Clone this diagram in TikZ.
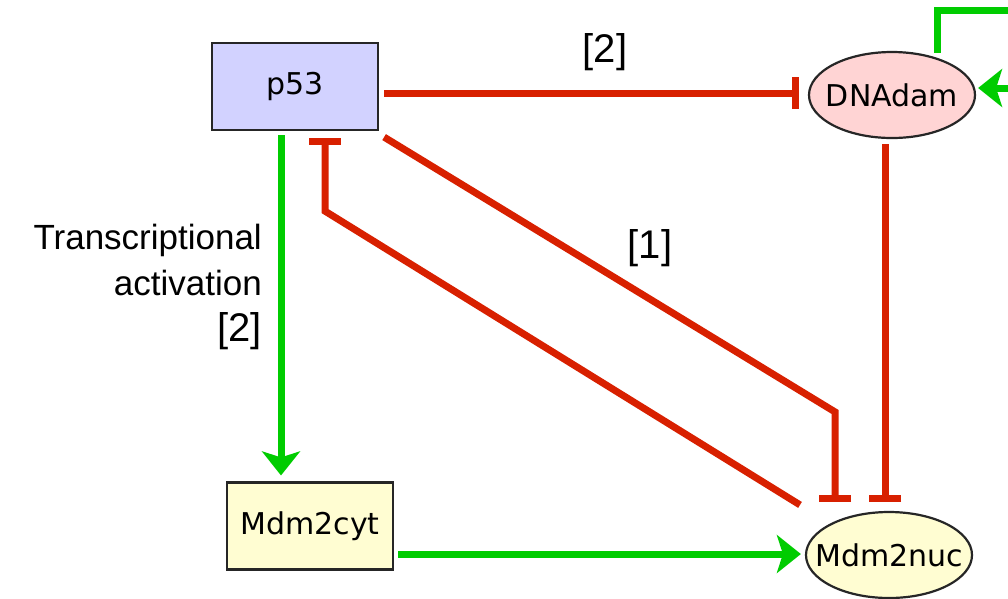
\documentclass[tikz,border=0pt]{standalone}
\usepackage{fontspec}
\setmainfont{Liberation Sans}
\newfontfamily\nodefont{DejaVu Sans}
\usetikzlibrary{arrows.meta,shapes.geometric,calc}

\definecolor{inhred}{RGB}{216,32,0}
\definecolor{actgreen}{RGB}{0,204,0}
\definecolor{pfill}{RGB}{210,210,255}
\definecolor{dnafill}{RGB}{255,212,212}
\definecolor{mdmfill}{RGB}{255,253,210}

\begin{document}
\begin{tikzpicture}[x=1pt,y=-1pt,
  species/.style={draw=black!85, line width=2.2pt, inner sep=0pt,
    font=\nodefont\fontsize{30}{30}\selectfont},
  boxnode/.style={species, rectangle, minimum width=166pt, minimum height=87pt},
  ovalnode/.style={species, ellipse, minimum width=166pt, minimum height=86pt},
  inh/.style={draw=inhred, line width=7pt, -{Bar[width=32pt]}},
  act/.style={draw=actgreen, line width=7pt, -{Stealth[length=24pt,width=38pt,inset=6pt]}},
  reflabel/.style={font=\fontsize{40}{46}\selectfont, inner sep=0pt}
]
\useasboundingbox (0,0) rectangle (1008,598);
\fill[white] (0,0) rectangle (1008,598);
\clip (0,0) rectangle (1008,598);

% species
\node[boxnode, fill=pfill] (p53) at (295,86.5) {p53};
\node[boxnode, fill=mdmfill] (cyt) at (310,526) {Mdm2cyt};
\node[ovalnode, fill=dnafill] (dna) at (892,95) {\makebox[0pt]{DNAdam}};
\node[ovalnode, fill=mdmfill] (nuc) at (889,555) {\makebox[0pt]{Mdm2nuc}};

% reference labels
\node[reflabel] (refTop) at (605,52) {[2]};
\node[reflabel] (refMid) at (650,248) {[1]};
\node[font=\fontsize{35}{46}\selectfont, align=right, anchor=north east, inner sep=0pt]
  (txact) at (262,224) {Transcriptional\\activation\\{\fontsize{40}{46}\selectfont [2]}};

% inhibitions
\draw[inh] ($(p53.east)+(5,6.5)$) -- ($(dna.west)+(-9,-2)$);
\draw[inh] ($(p53.south east)+(5,6)$) -- ($(nuc.north)+(-54,-99)$) -- ($(nuc.north)+(-54,-9)$);
\draw[inh] ($(nuc.north)+(-89,-6)$) -- ($(p53.south)+(30,80)$) -- ($(p53.south)+(30,7)$);
\draw[inh] ($(dna.south)+(-7,5)$) -- ($(nuc.north)+(-4,-9)$);

% activations
\draw[act] ($(p53.south)+(-14,4)$) -- ($(cyt.north)+(-29,-6)$);
\draw[act] ($(cyt.east)+(4,28)$) -- ($(nuc.west)+(-4,-1)$);
\draw[act] ($(dna.north)+(45,2)$) |- ($(dna.east)+(60,-85)$) |- ($(dna.east)+(2,-7)$);
\end{tikzpicture}
\end{document}
